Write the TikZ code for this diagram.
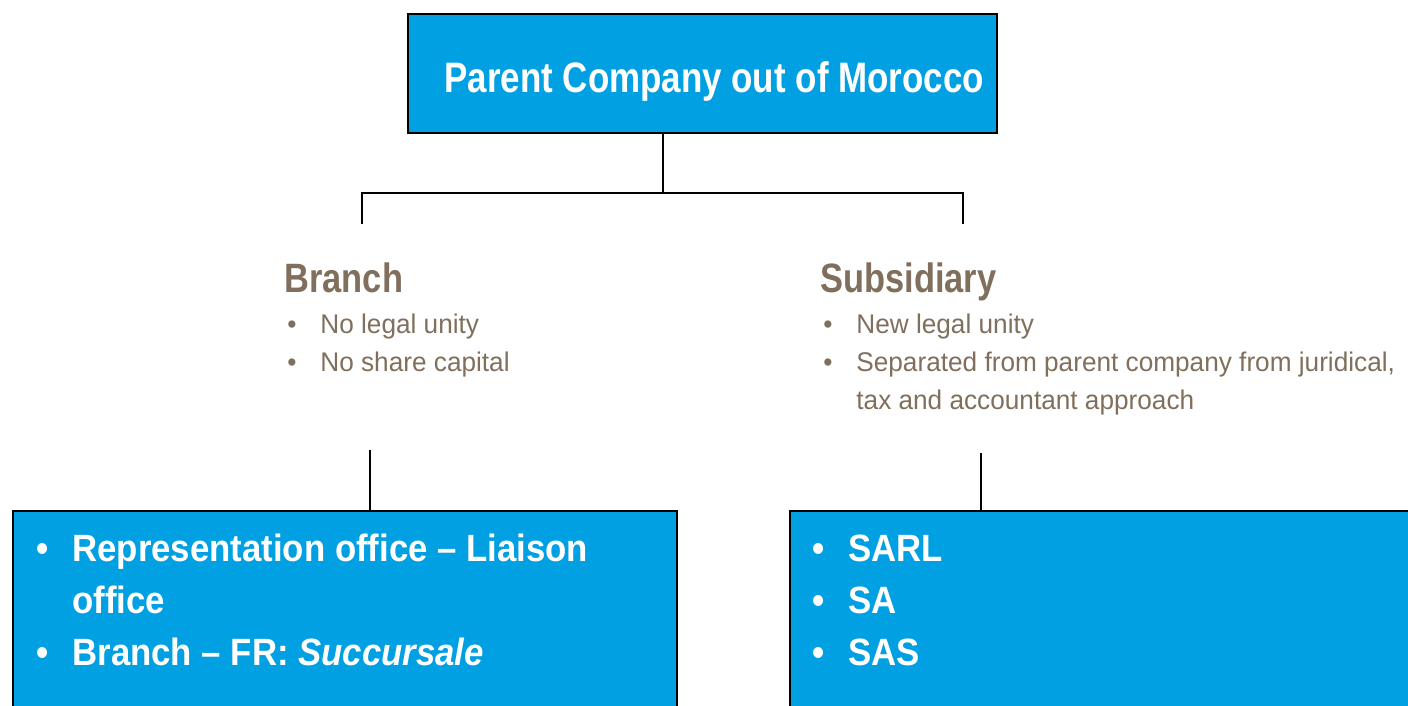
\documentclass[tikz,border=0pt]{standalone}
\usepackage{fontspec}
\setmainfont[FakeStretch=0.82]{Liberation Sans}
\newfontfamily\headfont[FakeStretch=0.84]{Liberation Sans}
\newfontfamily\notefont[FakeStretch=0.97]{Liberation Sans}
\newfontfamily\formfont[FakeStretch=0.915]{Liberation Sans}
\usetikzlibrary{positioning,calc}

\definecolor{boxblue}{RGB}{0,160,227}
\definecolor{notebrown}{RGB}{127,111,92}

\tikzset{
  bluebox/.style={draw=black,line width=1pt,fill=boxblue,inner sep=0pt},
  title/.style={text=white,font=\fontsize{21.3}{25}\selectfont\bfseries,
    anchor=base west,inner sep=0pt},
  heading/.style={text=notebrown,font=\headfont\fontsize{20.5}{24}\selectfont\bfseries,
    anchor=base west,inner sep=0pt},
  notes/.style={text=notebrown,font=\notefont\fontsize{13.5}{19}\selectfont,
    anchor=base west,inner sep=0pt},
  forms/.style={text=white,font=\formfont\fontsize{19}{26}\selectfont\bfseries,
    anchor=base west,inner sep=0pt},
  link/.style={line width=1pt}
}
\newcommand{\nb}{\makebox[16.5pt][l]{\textbullet}}
\newcommand{\fb}{\makebox[18pt][l]{\textbullet}}

\begin{document}
\begin{tikzpicture}[x=0.5pt,y=-0.5pt]
\useasboundingbox (0,0) rectangle (1408,706);
\clip (0,0) rectangle (1408,706);

% parent on top
\node[bluebox,minimum width=294.5pt,minimum height=59.5pt] (parent) at (702.5,73.5) {};
\node[title] (parenttxt) at (444,93) {Parent Company out of Morocco};

% the two ways in
\node[heading] (branch) at (284,292) {Branch};
\node[notes] (branchnotes) at (287,333) {\begin{tabular}[t]{@{}l@{}}
  \nb No legal unity\\
  \nb No share capital
\end{tabular}};
\node[heading] (subsid) at (820,292) {Subsidiary};
\node[notes] (subsidnotes) at (823,333) {\begin{tabular}[t]{@{}l@{}}
  \nb New legal unity\\
  \nb Separated from parent company from juridical,\\
  \hspace{16.5pt}tax and accountant approach
\end{tabular}};

% legal forms
\node[bluebox,minimum width=332pt,minimum height=110pt] (branchforms) at (345,621) {};
\node[forms] (branchlist) at (36,561) {\begin{tabular}[t]{@{}l@{}}
  \fb Representation office \textendash{} Liaison\\
  \hspace{18pt}office\\
  \fb Branch \textendash{} FR: \textit{Succursale}
\end{tabular}};
\node[bluebox,minimum width=320pt,minimum height=110pt] (subsidforms) at (1110,621) {};
\node[forms] (subsidlist) at (812,561) {\begin{tabular}[t]{@{}l@{}}
  \fb SARL\\
  \fb SA\\
  \fb SAS
\end{tabular}};

% connectors
\coordinate (split) at (663,193);
\coordinate (brtop) at (362,224);
\coordinate (sutop) at (963,224);
\coordinate (brfoot) at (370,450);
\coordinate (sufoot) at (981,453);
\draw[link] (parent.south -| split) -- (split);
\draw[link] (brtop) -- (brtop |- split) -- (sutop |- split) -- (sutop);
\draw[link] (brfoot) -- (brfoot |- branchforms.north);
\draw[link] (sufoot) -- (sufoot |- subsidforms.north);
\end{tikzpicture}
\end{document}
